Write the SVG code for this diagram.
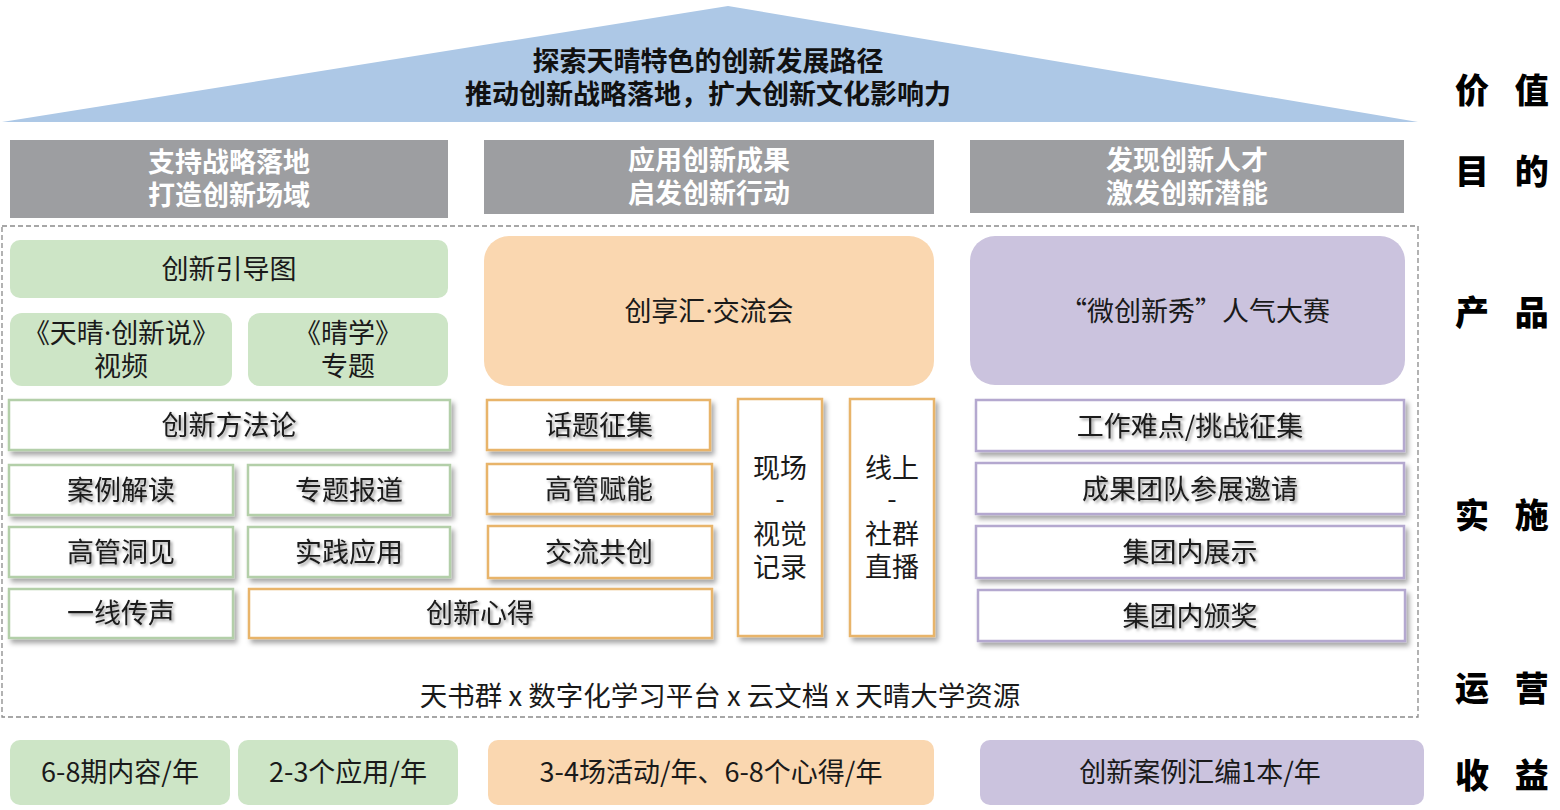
<svg xmlns="http://www.w3.org/2000/svg" width="1560" height="810" viewBox="0 0 1560 810">
<defs>
  <filter id="boxShadow" x="-10%" y="-20%" width="130%" height="160%">
    <feDropShadow dx="3" dy="4" stdDeviation="2.5" flood-color="#000" flood-opacity="0.35"/>
  </filter>
  <filter id="txtShadow" x="-10%" y="-30%" width="130%" height="180%">
    <feDropShadow dx="2" dy="2" stdDeviation="1.5" flood-color="#000" flood-opacity="0.4"/>
  </filter>
</defs>
<style>
  text { font-family: "Noto Sans CJK SC", "Noto Sans", sans-serif; }
  .hdr { font-size: 27px; font-weight: 700; fill: #111; text-anchor: middle; }
  .goal { font-size: 27px; font-weight: 700; fill: #fff; text-anchor: middle; }
  .goalbox { fill: #9d9ea1; }
  .prod { font-size: 27px; fill: #1a1a1a; text-anchor: middle; }
  .impl { font-size: 27px; fill: #1a1a1a; text-anchor: middle; filter: url(#txtShadow); }
  .ops { font-size: 27.5px; fill: #1a1a1a; text-anchor: middle; }
  .lat { font-family: "Noto Sans", sans-serif; }
  .gfill { fill: #cde5c6; }
  .ofill { fill: #fad7b0; }
  .pfill { fill: #cbc3de; }
  .gbox { fill: #fff; stroke: #b3cfa9; stroke-width: 2.5; filter: url(#boxShadow); }
  .obox { fill: #fff; stroke: #e8b46a; stroke-width: 2.5; filter: url(#boxShadow); }
  .pbox { fill: #fff; stroke: #b4a8cf; stroke-width: 2.5; filter: url(#boxShadow); }
  .lbl { font-size: 34px; font-weight: 900; fill: #000; letter-spacing: 9px; }
</style>

<g id="value">
  <polygon points="2,122 728,6 1418,122" fill="#adc8e6"/>
  <text class="hdr" x="708" y="71">探索天晴特色的创新发展路径<tspan x="708" dy="33">推动创新战略落地，扩大创新文化影响力</tspan></text>
</g>

<g id="goal1"><rect class="goalbox" x="10" y="140" width="438" height="78"/>
  <text class="goal" x="229" y="172">支持战略落地<tspan x="229" dy="33">打造创新场域</tspan></text></g>
<g id="goal2"><rect class="goalbox" x="484" y="140" width="450" height="74"/>
  <text class="goal" x="709" y="170">应用创新成果<tspan x="709" dy="33">启发创新行动</tspan></text></g>
<g id="goal3"><rect class="goalbox" x="970" y="140" width="434" height="73"/>
  <text class="goal" x="1187" y="170">发现创新人才<tspan x="1187" dy="33">激发创新潜能</tspan></text></g>

<g id="frame"><rect x="2" y="226" width="1416" height="491" fill="none" stroke="#8a8a8a" stroke-width="1.3" stroke-dasharray="5,3"/></g>

<g id="prod1"><rect class="gfill" x="10" y="240" width="438" height="58" rx="10"/><text class="prod" x="229" y="279">创新引导图</text></g>
<g id="prod2"><rect class="gfill" x="10" y="313" width="222" height="73" rx="12"/><text class="prod" x="121" y="343">《天晴<tspan class="lat">·</tspan>创新说》<tspan x="121" dy="33">视频</tspan></text></g>
<g id="prod3"><rect class="gfill" x="248" y="313" width="200" height="73" rx="12"/><text class="prod" x="348" y="343">《晴学》<tspan x="348" dy="33">专题</tspan></text></g>
<g id="prod4"><rect class="ofill" x="484" y="236" width="450" height="150" rx="25"/><text class="prod" x="709" y="321">创享汇<tspan class="lat">·</tspan>交流会</text></g>
<g id="prod5"><rect class="pfill" x="970" y="236" width="435" height="149" rx="25"/><text class="prod" x="1195" y="321">“微创新秀”人气大赛</text></g>

<g id="i1"><rect class="gbox" x="9" y="400" width="441" height="50"/><text class="impl" x="229" y="435">创新方法论</text></g>
<g id="i2"><rect class="gbox" x="9" y="465" width="224" height="50"/><text class="impl" x="121" y="500">案例解读</text></g>
<g id="i3"><rect class="gbox" x="248" y="465" width="202" height="50"/><text class="impl" x="349" y="500">专题报道</text></g>
<g id="i4"><rect class="gbox" x="9" y="527" width="224" height="50"/><text class="impl" x="121" y="562">高管洞见</text></g>
<g id="i5"><rect class="gbox" x="248" y="527" width="202" height="50"/><text class="impl" x="349" y="562">实践应用</text></g>
<g id="i6"><rect class="gbox" x="9" y="589" width="224" height="49"/><text class="impl" x="121" y="623">一线传声</text></g>
<g id="i7"><rect class="obox" x="249" y="589" width="463" height="49"/><text class="impl" x="480" y="623">创新心得</text></g>

<g id="i8"><rect class="obox" x="487" y="400" width="223" height="50"/><text class="impl" x="599" y="435">话题征集</text></g>
<g id="i9"><rect class="obox" x="487" y="464" width="225" height="50"/><text class="impl" x="599" y="499">高管赋能</text></g>
<g id="i10"><rect class="obox" x="488" y="526" width="224" height="52"/><text class="impl" x="599" y="562">交流共创</text></g>
<g id="i11"><rect class="obox" x="738" y="399" width="84" height="237"/>
  <text class="prod" x="780" y="478">现场<tspan x="780" dy="31">-</tspan><tspan x="780" dy="35">视觉</tspan><tspan x="780" dy="33">记录</tspan></text></g>
<g id="i12"><rect class="obox" x="850" y="399" width="84" height="237"/>
  <text class="prod" x="892" y="478">线上<tspan x="892" dy="31">-</tspan><tspan x="892" dy="35">社群</tspan><tspan x="892" dy="33">直播</tspan></text></g>

<g id="i13"><rect class="pbox" x="976" y="400" width="428" height="51"/><text class="impl" x="1190" y="436">工作难点/挑战征集</text></g>
<g id="i14"><rect class="pbox" x="976" y="463" width="428" height="51"/><text class="impl" x="1190" y="499">成果团队参展邀请</text></g>
<g id="i15"><rect class="pbox" x="976" y="526" width="428" height="52"/><text class="impl" x="1190" y="562">集团内展示</text></g>
<g id="i16"><rect class="pbox" x="978" y="590" width="427" height="51"/><text class="impl" x="1190" y="626">集团内颁奖</text></g>

<g id="ops"><text class="ops" x="720" y="706">天书群 x 数字化学习平台 x 云文档 x 天晴大学资源</text></g>

<g id="r1"><rect class="gfill" x="10" y="740" width="220" height="65" rx="10"/><text class="prod" x="120" y="782">6-8期内容/年</text></g>
<g id="r2"><rect class="gfill" x="238" y="740" width="220" height="65" rx="10"/><text class="prod" x="348" y="782">2-3个应用/年</text></g>
<g id="r3"><rect class="ofill" x="488" y="740" width="446" height="65" rx="10"/><text class="prod" x="711" y="782">3-4场活动/年、6-8个心得/年</text></g>
<g id="r4"><rect class="pfill" x="980" y="740" width="444" height="65" rx="10"/><text class="prod" x="1200" y="782">创新案例汇编1本/年</text></g>

<g id="labels">
  <text class="lbl" x="1455" y="103">价 值</text>
  <text class="lbl" x="1455" y="184">目 的</text>
  <text class="lbl" x="1455" y="325">产 品</text>
  <text class="lbl" x="1455" y="528">实 施</text>
  <text class="lbl" x="1455" y="701">运 营</text>
  <text class="lbl" x="1455" y="788">收 益</text>
</g>
</svg>
